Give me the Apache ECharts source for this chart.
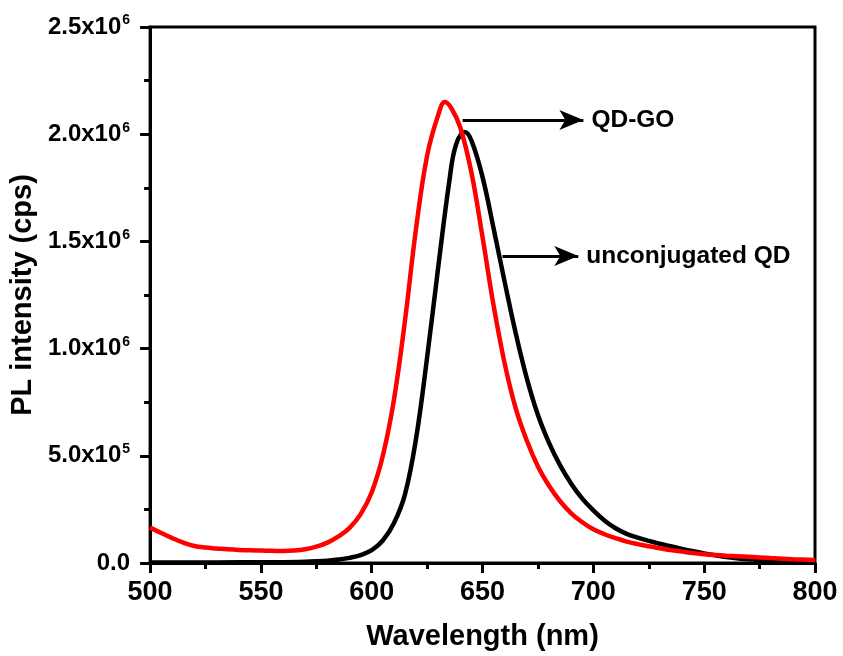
<!DOCTYPE html>
<html>
<head>
<meta charset="utf-8">
<script src="https://cdn.jsdelivr.net/npm/echarts@6/dist/echarts.min.js"></script>
<style>
  html, body { margin: 0; padding: 0; background: #fff; }
  #main { width: 843px; height: 656px; }
</style>
</head>
<body>
<div id="main"></div>
<script>
// PL spectra (cps)
var qdgoWavelength = [500, 505, 510, 515, 520, 525, 530, 535, 540, 545, 550, 555, 560, 565, 570, 575, 580, 585, 590, 595,
  600, 605, 610, 615, 620, 625, 630, 633, 636, 640, 645, 650, 655, 660, 665, 670, 675, 680, 685, 690, 695,
  700, 705, 710, 715, 720, 725, 730, 735, 740, 745, 750, 755, 760, 770, 780, 790, 800];
var qdgoIntensity = [165000, 140000, 116000, 95000, 79000, 72000, 68000, 64000, 61000, 59000, 58000, 57000, 56000, 58000, 64000, 76000, 95000, 124000, 164000, 228000,
  330000, 500000, 760000, 1130000, 1560000, 1900000, 2090000, 2150000, 2120000, 2030000, 1820000, 1520000, 1200000, 930000, 720000, 570000, 450000, 360000, 288000, 232000, 190000,
  157000, 134000, 116000, 100000, 88000, 78000, 69000, 60000, 53000, 46000, 41000, 37000, 34000, 29000, 23000, 18000, 14000];

var qdWavelength = [500, 520, 540, 560, 570, 575, 580, 585, 590, 595, 600, 605, 610, 615, 620, 625, 630, 635, 638, 642, 645,
  650, 655, 660, 665, 670, 675, 680, 685, 690, 695, 700, 705, 710, 715, 720, 725, 730, 735, 740, 745, 750, 755, 760, 770, 780, 790, 800];
var qdIntensity = [2000, 2000, 3000, 4000, 6000, 8000, 11000, 16000, 24000, 37000, 60000, 105000, 185000, 320000, 580000, 960000, 1380000, 1780000, 1950000, 2010000, 1970000,
  1800000, 1560000, 1310000, 1070000, 860000, 690000, 560000, 455000, 370000, 300000, 245000, 198000, 162000, 136000, 118000, 103000, 90000, 78000, 66000, 55000, 45000, 36000, 28000, 17000, 11000, 8000, 6000];

var seriesNames = ['unconjugated QD', 'QD-GO'];
var xTicks = { min: 500, max: 800, interval: 50 };
var yTicks = { min: 0, max: 2500000, interval: 500000 };

function pairs(xs, ys) {
  return xs.map(function (x, i) { return [x, ys[i]]; });
}

function yLabel(v) {
  if (v === 0) return '{a|0.0}';
  var exp = Math.floor(Math.log10(v));
  var mant = (v / Math.pow(10, exp)).toFixed(1);
  return '{a|' + mant + 'x10}{s|' + exp + '}';
}

var font = '"Liberation Sans", Arial, sans-serif';

var myChart = echarts.init(document.getElementById('main'));
myChart.setOption({
  animation: false,
  grid: { left: 149, right: 28, top: 27, bottom: 93, show: true, borderColor: '#000', borderWidth: 3 },
  xAxis: {
    type: 'value', min: xTicks.min, max: xTicks.max, interval: xTicks.interval,
    name: 'Wavelength (nm)', nameLocation: 'middle', nameGap: 59,
    nameTextStyle: { fontFamily: font, fontWeight: 'bold', fontSize: 29, color: '#000' },
    axisLine: { lineStyle: { color: '#000', width: 3 } },
    axisTick: { inside: false, length: 10, lineStyle: { width: 3 } },
    minorTick: { show: true, splitNumber: 2, length: 6, lineStyle: { color: '#000', width: 3 } },
    splitLine: { show: false },
    axisLabel: { fontFamily: font, fontWeight: 'bold', fontSize: 27, color: '#000', margin: 16 }
  },
  yAxis: {
    type: 'value', min: yTicks.min, max: yTicks.max, interval: yTicks.interval,
    name: 'PL intensity (cps)', nameLocation: 'middle', nameGap: 111, nameRotate: 90,
    nameTextStyle: { fontFamily: font, fontWeight: 'bold', fontSize: 29, color: '#000' },
    axisLine: { show: true, lineStyle: { color: '#000', width: 3 } },
    axisTick: { show: true, inside: false, length: 10, lineStyle: { width: 3 } },
    minorTick: { show: true, splitNumber: 2, length: 6, lineStyle: { color: '#000', width: 3 } },
    splitLine: { show: false },
    axisLabel: {
      margin: 20, formatter: yLabel,
      rich: {
        a: { fontFamily: font, fontWeight: 'bold', fontSize: 24, color: '#000' },
        s: { fontFamily: font, fontWeight: 'bold', fontSize: 14, color: '#000', verticalAlign: 'bottom', padding: [0, 0, 13, 1] }
      }
    }
  },
  series: [
    {
      name: seriesNames[0], type: 'line', data: pairs(qdWavelength, qdIntensity),
      showSymbol: false, smooth: 0.4, lineStyle: { color: '#000', width: 4.5 },
      markLine: {
        silent: true, symbol: ['none', 'arrow'], symbolSize: [15, 24],
        lineStyle: { color: '#000', width: 3, type: 'solid' },
        label: { position: 'end', distance: 8, padding: [6, 0, 0, 0], fontFamily: font, fontWeight: 'bold', fontSize: 24.5, color: '#000', formatter: '{b}' },
        data: [
          [{ name: seriesNames[1], coord: [641, 2066000] }, { coord: [695.5, 2066000] }],
          [{ name: seriesNames[0], coord: [659, 1432000] }, { coord: [693.2, 1432000] }]
        ]
      }
    },
    {
      name: seriesNames[1], type: 'line', data: pairs(qdgoWavelength, qdgoIntensity),
      showSymbol: false, smooth: 0.4, lineStyle: { color: '#ff0000', width: 4.5 }
    }
  ]
});
</script>
</body>
</html>
